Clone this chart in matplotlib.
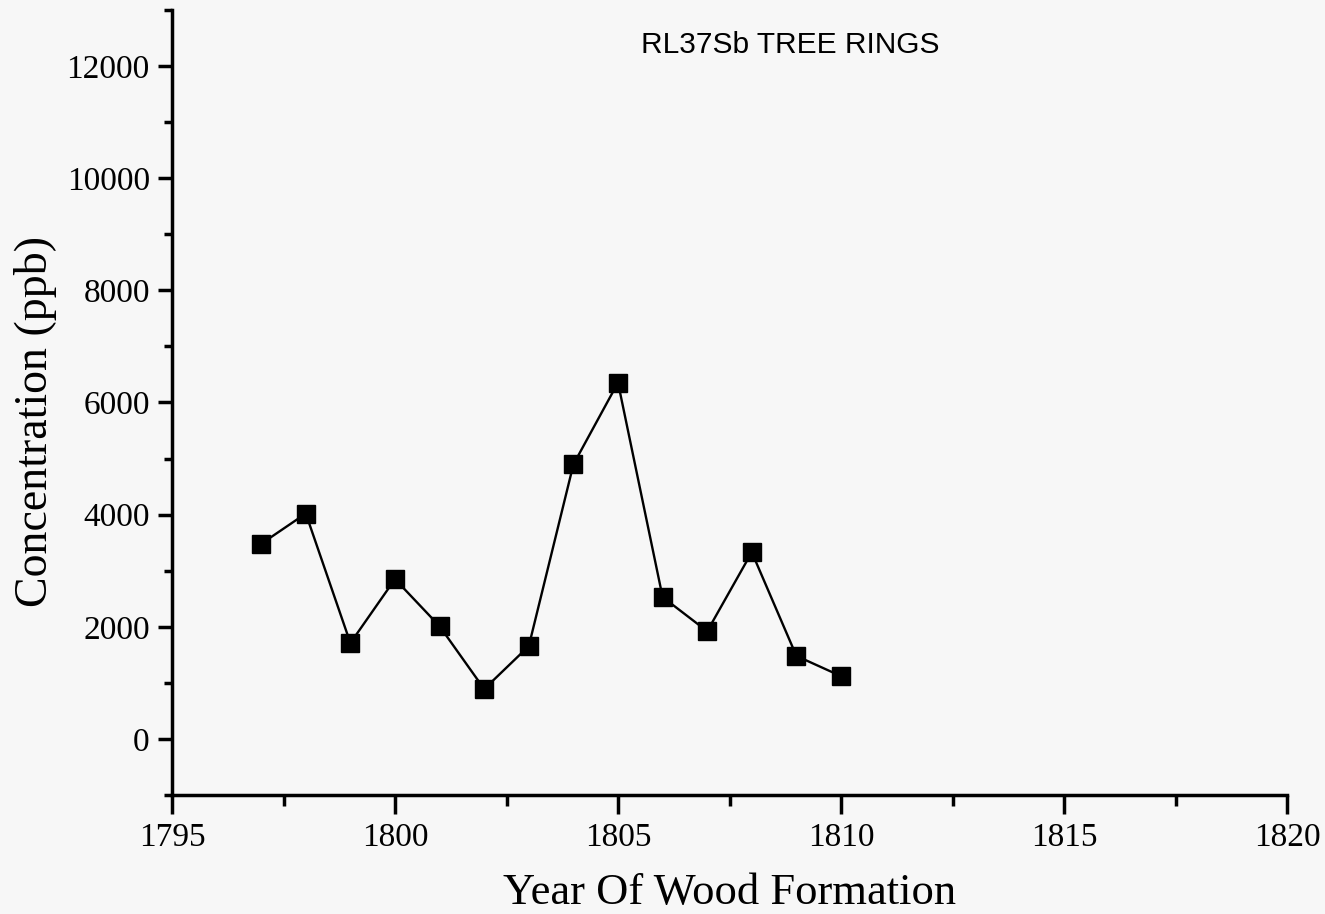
import matplotlib
matplotlib.use("Agg")
import matplotlib.pyplot as plt
from matplotlib.ticker import MultipleLocator

years = [1797, 1798, 1799, 1800, 1801, 1802, 1803, 1804, 1805, 1806, 1807, 1808, 1809, 1810]
conc = [3480, 4020, 1710, 2850, 2010, 890, 1655, 4895, 6355, 2530, 1920, 3330, 1480, 1120]
xticks = [1795, 1800, 1805, 1810, 1815, 1820]
yticks = [0, 2000, 4000, 6000, 8000, 10000, 12000]
title = "RL37Sb TREE RINGS"
xlabel = "Year Of Wood Formation"
ylabel = "Concentration (ppb)"

bg = "#f7f7f7"
fig = plt.figure(figsize=(13.25, 9.14), dpi=100, facecolor=bg)
ax = fig.add_axes([172/1325, 1-795/914, (1287-172)/1325, (795-10)/914])
ax.set_facecolor(bg)

ax.plot(years, conc, color="black", lw=1.7, marker="s", ms=12.5, mfc="black", mec="black")

ax.set_xlim(1795, 1820)
ax.set_ylim(-1000, 13000)
ax.set_xticks(xticks)
ax.set_yticks(yticks)
ax.xaxis.set_minor_locator(MultipleLocator(2.5))
ax.yaxis.set_minor_locator(MultipleLocator(1000))

for s in ["top", "right"]:
    ax.spines[s].set_visible(False)
for s in ["left", "bottom"]:
    ax.spines[s].set_linewidth(2.5)

serif = "Liberation Serif"
ax.tick_params(axis="x", which="major", direction="out", length=14, width=2.5, pad=6)
ax.tick_params(axis="x", which="minor", direction="out", length=8, width=2.5)
ax.tick_params(axis="y", which="major", direction="out", length=10, width=2.5, pad=6)
ax.tick_params(axis="y", which="minor", direction="out", length=6, width=2.5)
for lab in ax.get_xticklabels() + ax.get_yticklabels():
    lab.set_fontfamily(serif)
    lab.set_fontsize(24)

ax.set_xlabel(xlabel, fontfamily=serif, fontsize=32, labelpad=14)
ax.set_ylabel(ylabel, fontfamily=serif, fontsize=33)
ax.yaxis.set_label_coords(-0.103, 0.476)

ax.text((790-172)/(1287-172), 1-(45-10)/(795-10), title, transform=ax.transAxes,
        ha="center", va="center", fontfamily="Liberation Sans", fontsize=21.5)

fig.savefig("out.png", dpi=100, facecolor=bg)
